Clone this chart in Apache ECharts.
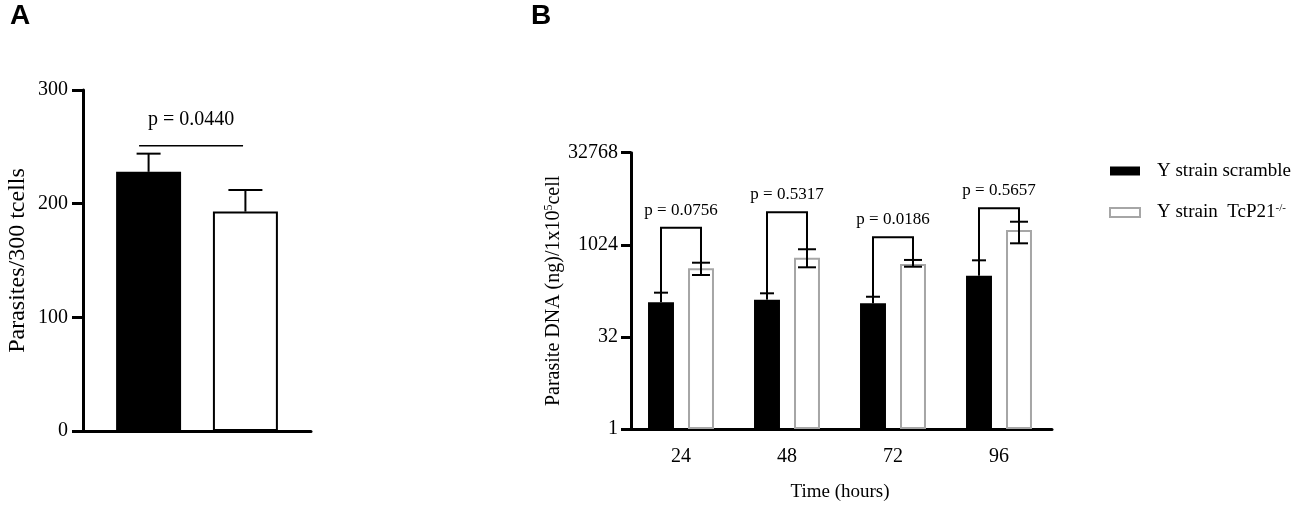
<!DOCTYPE html>
<html>
<head>
<meta charset="utf-8">
<script src="https://cdn.jsdelivr.net/npm/echarts@6/dist/echarts.min.js"></script>
<style>
html,body{margin:0;padding:0;background:#fff;}
#chart{width:1299px;height:512px;}
</style>
</head>
<body>
<div id="chart"></div>
<script>
// ---------- Data ----------
// Panel A
var catA = [''];
var aScramble = [228];
var aScrambleHigh = [244];
var aKO = [193];
var aKOHigh = [212];
var aSig = [251];
var aPText = ['p = 0.0440'];

// Panel B
var catB = ['24', '48', '72', '96'];
var bScramble = [118, 130, 113, 320];
var bScrambleHigh = [169, 165, 145, 571];
var bKO = [423, 630, 497, 1785];
var bKOLow = [329, 439, 449, 1083];
var bKOHigh = [522, 866, 579, 2440];
var bBracket = [1950, 3475, 1360, 4040];
var bPText = ['p = 0.0756', 'p = 0.5317', 'p = 0.0186', 'p = 0.5657'];

var nameScr = 'Y strain scramble';
var nameKO = 'Y strain  TcP21-/-';

// ---------- Style constants ----------
var SERIF = '"Liberation Serif", "Times New Roman", serif';
var GRAY = '#a6a6a6';
var A_BAR = 0.285, A_GAP = 0.49;
var B_BAR = 0.245, B_GAP = 0.54;
function offFrac(w, g){ return w * (1 + g) / 2; }

function errRender(barFrac, gapFrac, side, capHalf, bottomCap){
  return function(params, api){
    var i = api.value(0);
    var band = api.size([1, 0])[0];
    var off = side * offFrac(barFrac, gapFrac) * band;
    var pLo = api.coord([i, api.value(1)]);
    var pHi = api.coord([i, api.value(2)]);
    var x = pLo[0] + off;
    var st = {stroke:'#000', lineWidth:2};
    var ch = [
      {type:'line', shape:{x1:x, y1:pLo[1], x2:x, y2:pHi[1]}, style:st},
      {type:'line', shape:{x1:x-capHalf, y1:pHi[1], x2:x+capHalf, y2:pHi[1]}, style:st}
    ];
    if (bottomCap) ch.push({type:'line', shape:{x1:x-capHalf, y1:pLo[1], x2:x+capHalf, y2:pLo[1]}, style:st});
    return {type:'group', children:ch};
  };
}

function bracketRender(params, api){
  var i = api.value(0);
  var band = api.size([1, 0])[0];
  var off = offFrac(B_BAR, B_GAP) * band;
  var top = api.coord([i, api.value(1)]);
  var lb = api.coord([i, api.value(2)]);
  var rb = api.coord([i, api.value(3)]);
  var xL = top[0] - off, xR = top[0] + off;
  return {type:'group', children:[
    {type:'polyline', shape:{points:[[xL, lb[1]],[xL, top[1]],[xR, top[1]],[xR, rb[1]]]}, style:{stroke:'#000', lineWidth:2, fill:null}},
    {type:'text', style:{text: bPText[params.dataIndex], x:(xL+xR)/2, y: top[1]-17.5, align:'center', verticalAlign:'middle', fontSize:17, fontFamily:SERIF, fill:'#000'}}
  ]};
}

function sigARender(params, api){
  var i = api.value(0);
  var band = api.size([1, 0])[0];
  var p = api.coord([i, api.value(1)]);
  var xL = p[0] - 0.254 * band, xR = p[0] + 0.202 * band;
  return {type:'group', children:[
    {type:'line', shape:{x1:xL, y1:p[1], x2:xR, y2:p[1]}, style:{stroke:'#000', lineWidth:1.5}},
    {type:'text', style:{text: aPText[params.dataIndex], x:(xL+xR)/2, y:p[1]-26, align:'center', verticalAlign:'middle', fontSize:20, fontFamily:SERIF, fill:'#000'}}
  ]};
}

var chart = echarts.init(document.getElementById('chart'), null, {renderer:'canvas'});
var option = {
  animation:false,
  backgroundColor:'#fff',
  textStyle:{fontFamily:SERIF},
  title:[
    {text:'A', left:5, top:-3, textStyle:{fontFamily:'"Liberation Sans", Arial, sans-serif', fontWeight:'bold', fontSize:28, color:'#000'}},
    {text:'B', left:526, top:-3, textStyle:{fontFamily:'"Liberation Sans", Arial, sans-serif', fontWeight:'bold', fontSize:28, color:'#000'}}
  ],
  legend:{
    orient:'vertical', left:1109, top:161.5, padding:0, itemWidth:30, itemHeight:9, itemGap:22,
    selectedMode:false, icon:'rect',
    data:[
      {name:nameScr, itemStyle:{color:'#000', borderWidth:0}},
      {name:nameKO, itemStyle:{color:'#fff', borderColor:GRAY, borderWidth:2}}
    ],
    formatter:function(n){ return n === nameKO ? '{t|Y strain  TcP21}{s|-/-}' : '{t|' + n + '}'; },
    textStyle:{color:'#000', fontFamily:SERIF, fontSize:19, padding:[0,0,0,12],
      rich:{t:{fontSize:19, fontFamily:SERIF, color:'#000', lineHeight:20}, s:{fontSize:11, fontFamily:SERIF, color:'#000', verticalAlign:'top', lineHeight:20, padding:[0,0,8,0]}}}
  },
  grid:[
    {left:83, top:90, width:228, height:341},
    {left:628, top:152.7, width:424, height:276.3}
  ],
  xAxis:[
    {type:'category', gridIndex:0, data:catA, axisLine:{lineStyle:{color:'#000', width:3}}, axisTick:{show:false}, axisLabel:{show:false}},
    {type:'category', gridIndex:1, data:catB, name:'Time (hours)', nameLocation:'middle', nameGap:54,
      nameTextStyle:{fontSize:19, fontFamily:SERIF, color:'#000'},
      axisLine:{lineStyle:{color:'#000', width:3}},
      axisTick:{alignWithLabel:true, length:10, lineStyle:{color:'#000', width:3}},
      axisLabel:{fontSize:20, fontFamily:SERIF, color:'#000', margin:18}}
  ],
  yAxis:[
    {type:'value', gridIndex:0, min:0, max:300, interval:100, splitLine:{show:false},
      name:'Parasites/300 tcells', nameLocation:'middle', nameGap:53,
      nameTextStyle:{fontSize:24, fontFamily:SERIF, color:'#000'},
      axisLine:{show:true, lineStyle:{color:'#000', width:3}},
      axisTick:{show:true, length:11, lineStyle:{color:'#000', width:3}},
      axisLabel:{fontSize:20, fontFamily:SERIF, color:'#000', margin:15}},
    {type:'log', logBase:2, gridIndex:1, min:1, max:32768, interval:5, offset:-3, splitLine:{show:false},
      name:'{t|Parasite DNA (ng)/1x10}{s|5}{t|cell}', nameLocation:'middle', nameGap:59,
      nameTextStyle:{fontSize:20, fontFamily:SERIF, color:'#000',
        rich:{t:{fontSize:20, fontFamily:SERIF, color:'#000', lineHeight:22}, s:{fontSize:12, fontFamily:SERIF, color:'#000', verticalAlign:'top', lineHeight:22, padding:[0,0,9,0]}}},
      axisLine:{show:true, lineStyle:{color:'#000', width:3}},
      axisTick:{show:true, length:10, lineStyle:{color:'#000', width:3}},
      axisLabel:{fontSize:20, fontFamily:SERIF, color:'#000', margin:13,
        formatter:function(v){ return String(Math.round(v)); }}}
  ],
  series:[
    {type:'bar', name:nameScr, xAxisIndex:0, yAxisIndex:0, data:aScramble, barWidth:(A_BAR*100)+'%', barGap:(A_GAP*100)+'%', itemStyle:{color:'#000'}},
    {type:'bar', name:nameKO, xAxisIndex:0, yAxisIndex:0, data:aKO, barWidth:(A_BAR*100)+'%', barGap:(A_GAP*100)+'%', itemStyle:{color:'#fff', borderColor:'#000', borderWidth:2}},
    {type:'custom', xAxisIndex:0, yAxisIndex:0, z:5, renderItem:errRender(A_BAR, A_GAP, -1, 12, false),
      data: aScramble.map(function(v, i){ return [i, v, aScrambleHigh[i]]; })},
    {type:'custom', xAxisIndex:0, yAxisIndex:0, z:5, renderItem:errRender(A_BAR, A_GAP, 1, 17, false),
      data: aKO.map(function(v, i){ return [i, v, aKOHigh[i]]; })},
    {type:'custom', xAxisIndex:0, yAxisIndex:0, z:5, renderItem:sigARender,
      data: aSig.map(function(v, i){ return [i, v]; })},

    {type:'bar', name:nameScr, xAxisIndex:1, yAxisIndex:1, data:bScramble, barWidth:(B_BAR*100)+'%', barGap:(B_GAP*100)+'%', itemStyle:{color:'#000'}},
    {type:'bar', name:nameKO, xAxisIndex:1, yAxisIndex:1, data:bKO, barWidth:(B_BAR*100)+'%', barGap:(B_GAP*100)+'%', itemStyle:{color:'#fff', borderColor:GRAY, borderWidth:2}},
    {type:'custom', xAxisIndex:1, yAxisIndex:1, z:5, renderItem:errRender(B_BAR, B_GAP, -1, 7, false),
      data: bScramble.map(function(v, i){ return [i, v, bScrambleHigh[i]]; })},
    {type:'custom', xAxisIndex:1, yAxisIndex:1, z:5, renderItem:errRender(B_BAR, B_GAP, 1, 9, true),
      data: bKOLow.map(function(v, i){ return [i, v, bKOHigh[i]]; })},
    {type:'custom', xAxisIndex:1, yAxisIndex:1, z:5, renderItem:bracketRender,
      data: bBracket.map(function(v, i){ return [i, v, bScrambleHigh[i], bKOHigh[i]]; })}
  ]
};
chart.setOption(option);
</script>
</body>
</html>
